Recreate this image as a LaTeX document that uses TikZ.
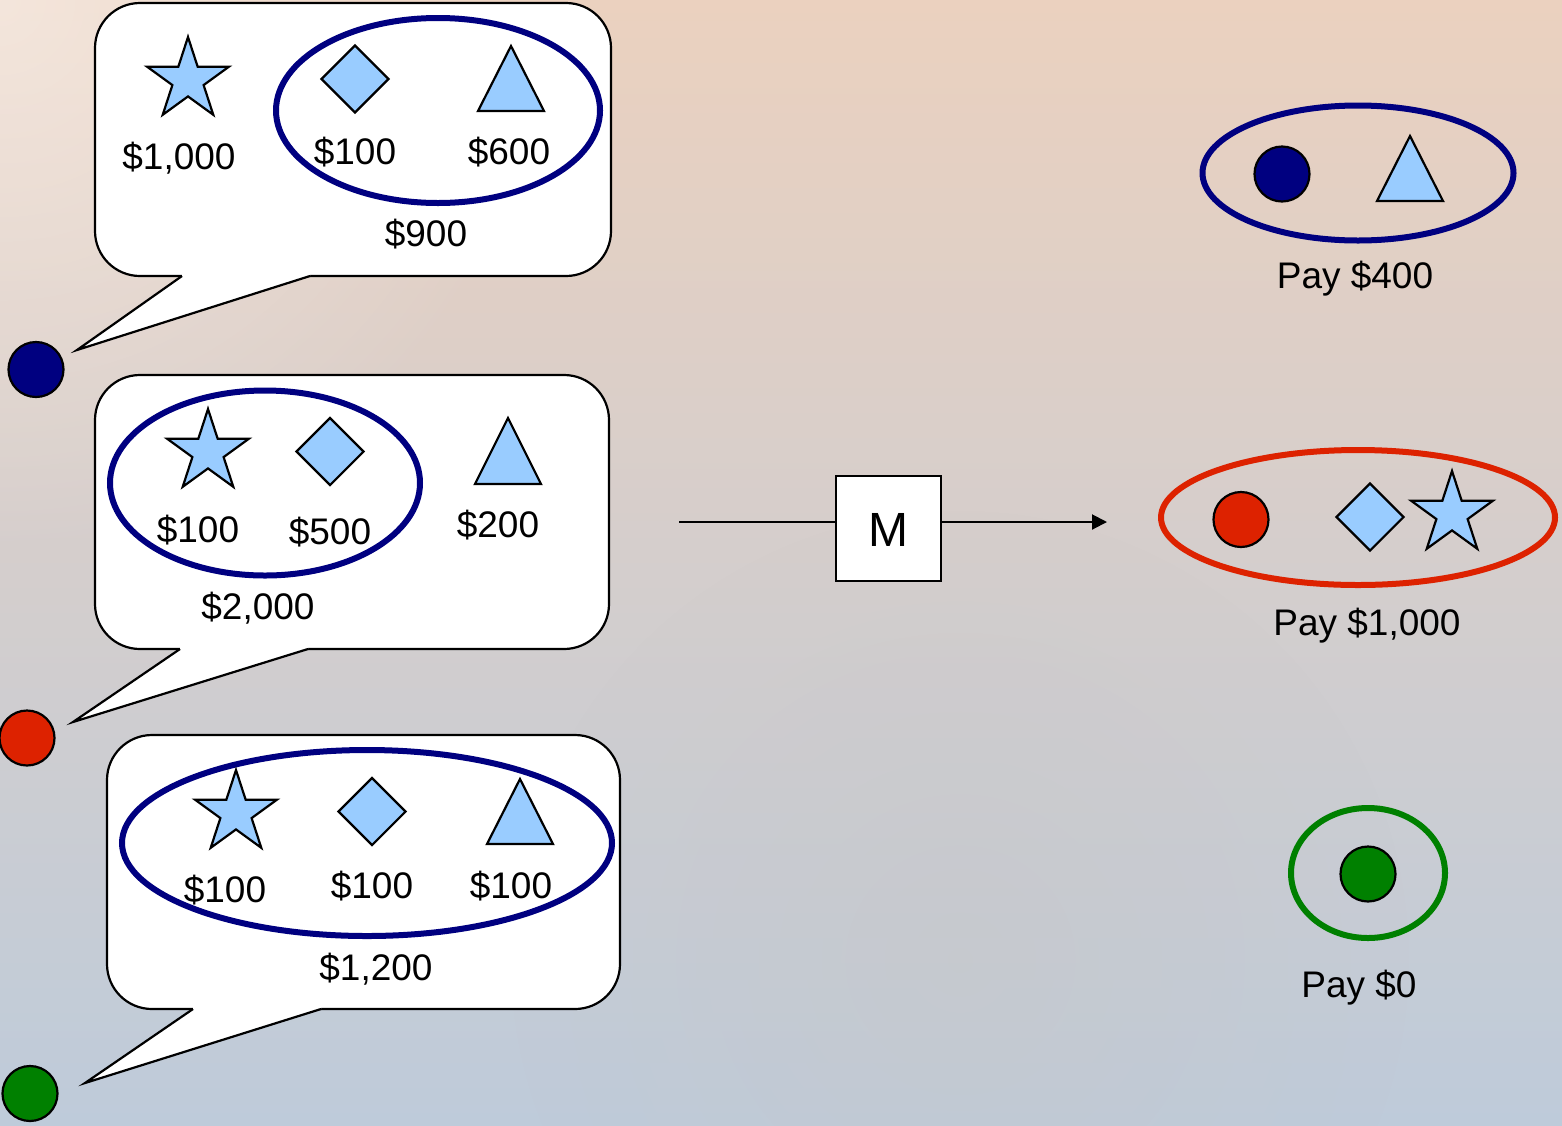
\documentclass[tikz,border=0pt]{standalone}
\usepackage{fontspec}
\setmainfont{Liberation Sans}
\usetikzlibrary{shapes.geometric,arrows.meta,fadings}
\definecolor{navyc}{HTML}{000080}
\definecolor{redc}{HTML}{DD2200}
\definecolor{greenc}{HTML}{008000}
\definecolor{shapec}{HTML}{99CCFF}
\definecolor{bgtop}{HTML}{EBD1BF}
\definecolor{bgmid}{HTML}{D8BEC8}
\definecolor{bgbot}{HTML}{BECBDA}
\definecolor{bggray}{HTML}{C8C6C6}
\tikzfading[name=cornerglow, inner color=transparent!55, outer color=transparent!100]
\tikzset{
  lbl/.style={anchor=base, inner sep=0pt, font=\fontsize{37}{44}\selectfont},
  starnode/.style={star, star points=5, star point ratio=2.618, minimum size=86pt, inner sep=0pt, draw=black, line width=2.2pt, fill=shapec},
  diamnode/.style={diamond, minimum size=68pt, inner sep=0pt, draw=black, line width=2.2pt, fill=shapec},
  tri/.style={draw=black, line width=2.2pt, fill=shapec, line join=miter},
  dot/.style={circle, minimum size=55pt, inner sep=0pt, draw=black, line width=2.2pt},
  grp/.style={ellipse, inner sep=0pt, line width=6pt},
  bubblebox/.style={rectangle, rounded corners=45pt, draw=black, fill=white, line width=2.2pt, inner sep=0pt},
  conn/.style={line width=2pt},
}
% name, x1, y1, x2, y2, tail-left, tail-right, tipx, tipy
\newcommand\speechbubble[9]{%
  \node[bubblebox, minimum width={(#4-#2)*1pt}, minimum height={(#5-#3)*1pt}] (#1) at ({(#2+#4)/2},{(#3+#5)/2}) {};
  \fill[white] (#6,{#5-6}) -- (#7,{#5-6}) -- (#7,#5) -- (#8,#9) -- (#6,#5) -- cycle;
  \draw[line width=2.2pt, line join=miter] (#6,#5) -- (#8,#9) -- (#7,#5);
  \coordinate (#1-tip) at (#8,#9);
}
% name, apex x, apex y, base y
\newcommand\triangleshape[4]{%
  \draw[tri] (#2,#3) -- ({#2+33},#4) -- ({#2-33},#4) -- cycle;
  \coordinate (#1) at (#2,{(#3+#4)/2});
}
\begin{document}
\begin{tikzpicture}[x=1pt,y=-1pt]
\useasboundingbox (0,0) rectangle (1562,1125);
\shade[top color=bgtop, middle color=bgmid, bottom color=bgbot] (0,0) rectangle (1562,1125);
\begin{scope}
\clip (0,0) rectangle (1562,1125);
\fill[white, path fading=cornerglow] (0,0) circle (560);
\fill[bggray, path fading=cornerglow] (960,960) circle (450);
\end{scope}

% speech bubbles
\speechbubble{b1}{95}{3}{611}{276}{182}{310}{77}{350}
\speechbubble{b2}{95}{375}{609}{649}{180}{308}{73}{722}
\speechbubble{b3}{107}{735}{620}{1009}{193}{321}{85}{1083}

% bidders
\node[dot, fill=navyc] (d1) at (36,369.5) {};
\node[dot, fill=redc] (d2) at (27,738) {};
\node[dot, fill=greenc] (d3) at (30,1093.5) {};

% bundles
\node[grp, draw=navyc, minimum width=324pt, minimum height=185pt] (e1) at (438,110.5) {};
\node[grp, draw=navyc, minimum width=310pt, minimum height=185pt] (e2) at (265,483) {};
\node[grp, draw=navyc, minimum width=490pt, minimum height=186pt] (e3) at (367,843) {};

% bubble 1 items
\node[starnode] (s1) at (188,80) {};
\node[diamnode] (q1) at (355,79) {};
\triangleshape{t1}{511}{46}{111}
\node[lbl] (l11) at (179,169) {\$1,000};
\node[lbl] (l12) at (355,164) {\$100};
\node[lbl] (l13) at (509,164) {\$600};
\node[lbl] (l14) at (426,246) {\$900};

% bubble 2 items
\node[starnode] (s2) at (208,452) {};
\node[diamnode] (q2) at (330,451.5) {};
\triangleshape{t2}{508}{418}{484}
\node[lbl] (l21) at (198,542) {\$100};
\node[lbl] (l22) at (330,544) {\$500};
\node[lbl] (l23) at (498,537) {\$200};
\node[lbl] (l24) at (258,619) {\$2,000};

% bubble 3 items
\node[starnode] (s3) at (236,813) {};
\node[diamnode] (q3) at (372,811.5) {};
\triangleshape{t3}{520}{779}{844}
\node[lbl] (l31) at (225,902) {\$100};
\node[lbl] (l32) at (372,898) {\$100};
\node[lbl] (l33) at (511,898) {\$100};
\node[lbl] (l34) at (376,980) {\$1,200};

% mechanism
\node[draw=black, fill=white, line width=2.2pt, minimum size=105pt, inner sep=0pt] (M) at (888.8,528.2) {};
\node[anchor=base, inner sep=0pt, font=\fontsize{48}{56}\selectfont] (Mtxt) at (888.8,546) {M};
\coordinate (in) at (679,522);
\coordinate (out) at (1107,522);
\draw[conn] (in) -- (in -| M.west);
\draw[conn, -{Triangle[length=15pt,width=15pt]}] (M.east |- out) -- (out);

% outcomes
\node[grp, draw=navyc, minimum width=311pt, minimum height=135pt] (r1) at (1358,173) {};
\node[dot, fill=navyc] (rd1) at (1282,174) {};
\triangleshape{rt1}{1410}{136}{201}
\node[lbl] (p1) at (1355,288) {Pay \$400};

\node[grp, draw=redc, minimum width=394pt, minimum height=135pt] (r2) at (1358,517.5) {};
\node[dot, fill=redc] (rd2) at (1241,519.5) {};
\node[diamnode] (rq2) at (1370,517) {};
\node[starnode] (rs2) at (1452,514) {};
\node[lbl] (p2) at (1367,635) {Pay \$1,000};

\node[grp, draw=greenc, minimum width=154pt, minimum height=130pt] (r3) at (1368,873) {};
\node[dot, fill=greenc] (rd3) at (1368,874) {};
\node[lbl] (p3) at (1359,997) {Pay \$0};
\end{tikzpicture}
\end{document}
